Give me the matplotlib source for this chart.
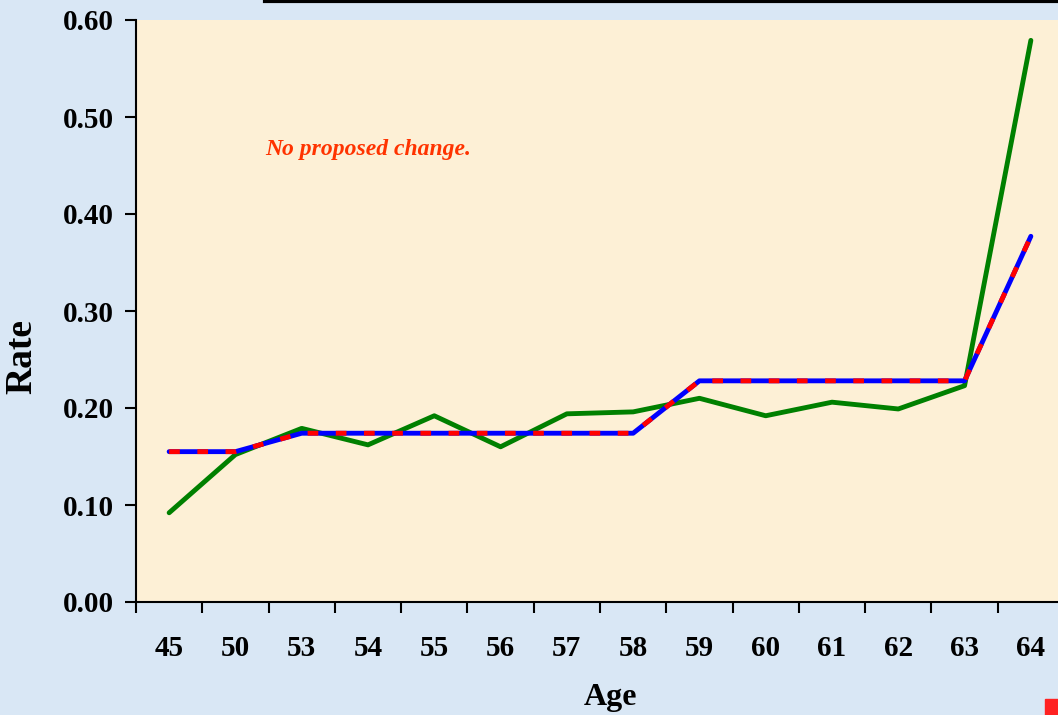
import numpy as np
import matplotlib.pyplot as plt
from matplotlib.patches import Rectangle
from matplotlib.lines import Line2D

ages = ['45', '50', '53', '54', '55', '56', '57', '58', '59', '60', '61', '62', '63', '64']
actual = [0.092, 0.152, 0.179, 0.162, 0.192, 0.160, 0.194, 0.196, 0.210, 0.192, 0.206, 0.199, 0.223, 0.579]
current = [0.155, 0.155, 0.174, 0.174, 0.174, 0.174, 0.174, 0.174, 0.228, 0.228, 0.228, 0.228, 0.228, 0.377]
proposed = current  # no proposed change

plt.rcParams['font.family'] = ['Liberation Serif', 'DejaVu Serif']
plt.rcParams['font.weight'] = 'bold'

W, H = 1058, 715
fig = plt.figure(figsize=(W / 100, H / 100), dpi=100)
fig.patch.set_facecolor('#d9e7f5')

# axes extends slightly past the right edge like the original
ax = fig.add_axes([136 / W, 1 - 602 / H, (1064 - 136) / W, 582 / H])
ax.set_facecolor('#fdf0d6')

x = np.arange(len(ages))
ax.plot(x, actual, color='#008000', lw=3.5, solid_capstyle='round', solid_joinstyle='round', zorder=3)
ax.plot(x, current, color='#0000ff', lw=3.5, solid_capstyle='round', zorder=4)
ax.plot(x, proposed, color='#ff0000', lw=3.5, dashes=(2.2, 3.6), dash_capstyle='butt', zorder=5)

ax.set_xlim(-0.5, len(ages) - 0.5)
ax.set_ylim(0, 0.6)
yt = np.arange(0, 0.61, 0.1)
ax.set_yticks(yt)
ax.set_yticklabels(['%.2f' % v for v in yt])
ax.set_xticks(np.arange(-0.5, len(ages), 1.0))
ax.set_xticklabels([])
ax.set_xticks(x, minor=True)
ax.set_xticklabels(ages, minor=True)
ax.tick_params(axis='x', which='major', direction='out', length=8, width=1.5)
ax.tick_params(axis='x', which='minor', length=0, pad=24, labelsize=21)
ax.tick_params(axis='y', direction='out', length=8, width=1.5, labelsize=21, pad=8)

for s in ['top', 'right']:
    ax.spines[s].set_visible(False)
for s in ['left', 'bottom']:
    ax.spines[s].set_linewidth(1.5)

fig.text(22 / W, 1 - 357 / H, 'Rate', rotation=90, fontsize=27, fontweight='bold',
         ha='center', va='center')
fig.text(611 / W, 1 - 698 / H, 'Age', fontsize=23, fontweight='bold',
         ha='center', va='center')

ax.text((265 - 136) / 928, 0.778, 'No proposed change.', transform=ax.transAxes,
        color='#ff3300', fontsize=17, fontstyle='italic', fontweight='bold',
        ha='left', va='center')

# bits of surrounding slide
fig.add_artist(Line2D([265 / W, 1.0], [1 - 1 / H, 1 - 1 / H], color='black', lw=3))
fig.add_artist(Rectangle((1045 / W, 0), 13 / W, 16 / H, color='#ff2222'))

fig.savefig('out.png', dpi=100, facecolor=fig.get_facecolor())
